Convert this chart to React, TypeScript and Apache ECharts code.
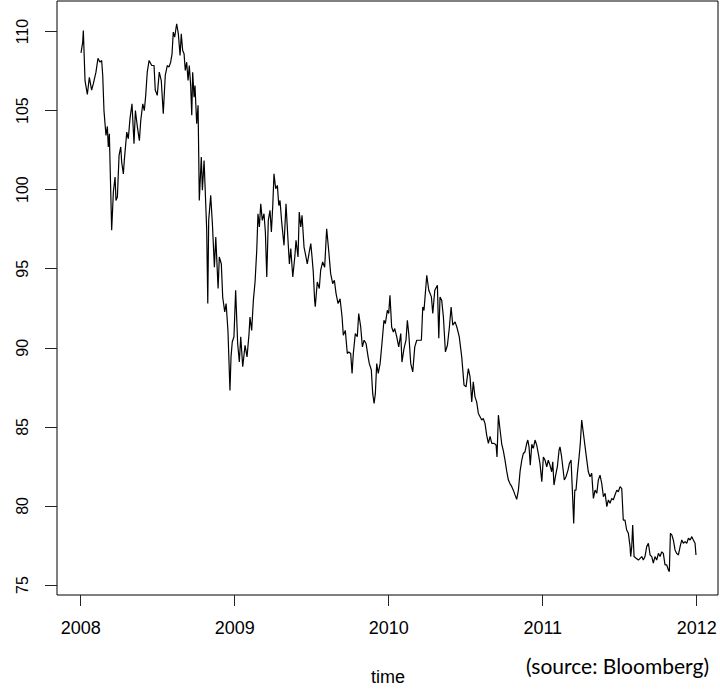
import React, { useEffect, useRef } from "react";
import * as echarts from "echarts";

// time in decimal years (as R's time() of the series)
const time = [
  2008.002, 2008.013, 2008.017, 2008.028, 2008.043, 2008.056, 2008.071, 2008.082, 2008.099, 2008.112,
  2008.125, 2008.136, 2008.143, 2008.151, 2008.164, 2008.173, 2008.179, 2008.186, 2008.190, 2008.201,
  2008.212, 2008.223, 2008.229, 2008.238, 2008.249, 2008.260, 2008.266, 2008.277, 2008.283, 2008.299,
  2008.309, 2008.320, 2008.333, 2008.346, 2008.355, 2008.368, 2008.381, 2008.390, 2008.403, 2008.413,
  2008.422, 2008.432, 2008.444, 2008.461, 2008.476, 2008.484, 2008.497, 2008.510, 2008.523, 2008.536,
  2008.549, 2008.562, 2008.573, 2008.584, 2008.593, 2008.601, 2008.610, 2008.623, 2008.634, 2008.645,
  2008.653, 2008.662, 2008.671, 2008.679, 2008.688, 2008.697, 2008.705, 2008.714, 2008.721, 2008.727,
  2008.736, 2008.742, 2008.753, 2008.762, 2008.770, 2008.783, 2008.790, 2008.801, 2008.818, 2008.825,
  2008.831, 2008.844, 2008.855, 2008.868, 2008.877, 2008.892, 2008.900, 2008.913, 2008.922, 2008.935,
  2008.944, 2008.956, 2008.969, 2008.976, 2008.984, 2008.995, 2009.006, 2009.019, 2009.030, 2009.039,
  2009.052, 2009.067, 2009.080, 2009.093, 2009.099, 2009.110, 2009.121, 2009.132, 2009.143, 2009.151,
  2009.160, 2009.169, 2009.179, 2009.190, 2009.199, 2009.208, 2009.218, 2009.229, 2009.238, 2009.247,
  2009.255, 2009.266, 2009.277, 2009.286, 2009.294, 2009.305, 2009.320, 2009.333, 2009.346, 2009.355,
  2009.364, 2009.377, 2009.390, 2009.398, 2009.411, 2009.419, 2009.429, 2009.437, 2009.450, 2009.463,
  2009.471, 2009.484, 2009.494, 2009.502, 2009.510, 2009.519, 2009.523, 2009.536, 2009.549, 2009.558,
  2009.571, 2009.584, 2009.597, 2009.610, 2009.623, 2009.636, 2009.647, 2009.658, 2009.671, 2009.684,
  2009.697, 2009.705, 2009.718, 2009.731, 2009.740, 2009.753, 2009.762, 2009.770, 2009.783, 2009.796,
  2009.805, 2009.818, 2009.829, 2009.840, 2009.853, 2009.866, 2009.874, 2009.887, 2009.896, 2009.905,
  2009.913, 2009.922, 2009.932, 2009.944, 2009.956, 2009.969, 2009.978, 2009.991, 2010.000, 2010.008,
  2010.019, 2010.030, 2010.039, 2010.052, 2010.065, 2010.078, 2010.086, 2010.099, 2010.112, 2010.121,
  2010.130, 2010.143, 2010.156, 2010.169, 2010.182, 2010.195, 2010.212, 2010.221, 2010.229, 2010.247,
  2010.260, 2010.277, 2010.286, 2010.299, 2010.316, 2010.325, 2010.333, 2010.344, 2010.355, 2010.368,
  2010.381, 2010.394, 2010.405, 2010.416, 2010.431, 2010.445, 2010.458, 2010.474, 2010.489, 2010.502,
  2010.517, 2010.528, 2010.539, 2010.549, 2010.560, 2010.571, 2010.582, 2010.593, 2010.604, 2010.614,
  2010.625, 2010.636, 2010.647, 2010.658, 2010.669, 2010.684, 2010.697, 2010.703, 2010.712, 2010.723,
  2010.734, 2010.744, 2010.755, 2010.766, 2010.777, 2010.788, 2010.799, 2010.809, 2010.820, 2010.831,
  2010.842, 2010.853, 2010.864, 2010.874, 2010.885, 2010.896, 2010.903, 2010.911, 2010.919, 2010.929,
  2010.939, 2010.950, 2010.961, 2010.971, 2010.982, 2010.994, 2011.004, 2011.015, 2011.026, 2011.036,
  2011.047, 2011.058, 2011.065, 2011.073, 2011.084, 2011.095, 2011.106, 2011.112, 2011.121, 2011.130,
  2011.140, 2011.151, 2011.164, 2011.173, 2011.184, 2011.195, 2011.201, 2011.208, 2011.216, 2011.225,
  2011.236, 2011.244, 2011.253, 2011.264, 2011.275, 2011.286, 2011.296, 2011.307, 2011.318, 2011.329,
  2011.340, 2011.351, 2011.361, 2011.372, 2011.383, 2011.394, 2011.405, 2011.416, 2011.426, 2011.437,
  2011.448, 2011.458, 2011.469, 2011.481, 2011.491, 2011.502, 2011.513, 2011.523, 2011.534, 2011.545,
  2011.556, 2011.567, 2011.571, 2011.578, 2011.584, 2011.593, 2011.606, 2011.621, 2011.632, 2011.643,
  2011.653, 2011.664, 2011.675, 2011.686, 2011.697, 2011.708, 2011.718, 2011.729, 2011.740, 2011.751,
  2011.762, 2011.773, 2011.783, 2011.794, 2011.805, 2011.816, 2011.822, 2011.829, 2011.838, 2011.848,
  2011.859, 2011.870, 2011.881, 2011.892, 2011.903, 2011.913, 2011.924, 2011.935, 2011.946, 2011.957,
  2011.968, 2011.978, 2011.989, 2011.995,
];

const price = [
  108.65, 109.33, 110.06, 106.9, 106.02, 107.1, 106.3, 106.7, 107.43, 108.31,
  108.06, 108.17, 107.2, 105.0, 103.43, 104.0, 102.7, 103.54, 101.85, 97.43,
  99.85, 100.8, 99.32, 99.53, 102.17, 102.7, 101.74, 101.0, 101.85, 103.64,
  103.22, 104.49, 105.43, 102.9, 105.0, 103.96, 103.1, 104.4, 105.43, 105.0,
  105.96, 107.43, 108.17, 107.85, 107.85, 106.3, 105.96, 107.43, 106.9, 104.8,
  107.22, 107.85, 107.75, 108.06, 108.59, 109.96, 109.64, 110.49, 109.85, 108.48,
  109.85, 108.8, 108.59, 107.54, 108.06, 106.9, 107.85, 106.59, 104.7, 107.43,
  105.85, 106.59, 104.17, 105.33, 99.32, 102.06, 99.96, 101.85, 97.5, 92.8,
  98.06, 99.64, 97.85, 95.1, 97.0, 93.75, 95.74, 95.3, 93.2, 92.27,
  92.8, 91.1, 87.3, 89.43, 90.37, 90.7, 93.64, 90.27, 89.1, 90.7,
  88.8, 90.16, 89.43, 90.9, 91.95, 91.1, 93.0, 94.16, 96.17, 98.48,
  97.64, 99.1, 98.06, 98.48, 97.32, 94.48, 98.06, 98.7, 97.32, 99.0,
  101.0, 100.06, 100.27, 99.0, 99.32, 97.95, 96.48, 99.1, 96.8, 95.3,
  96.27, 94.48, 95.74, 96.8, 95.74, 98.58, 97.64, 98.38, 96.37, 95.74,
  95.3, 96.06, 96.59, 95.74, 94.8, 93.0, 92.6, 94.16, 93.75, 94.9,
  95.43, 95.1, 97.53, 96.17, 94.69, 94.06, 94.27, 93.43, 92.8, 93.1,
  91.95, 90.8, 91.1, 89.64, 89.74, 89.64, 88.38, 89.64, 90.9, 90.7,
  92.17, 91.32, 90.06, 90.48, 90.27, 89.43, 89.0, 88.6, 87.1, 86.48,
  87.1, 89.0, 88.38, 89.0, 90.27, 91.74, 91.53, 92.37, 92.17, 93.32,
  91.32, 91.0, 91.22, 90.69, 90.06, 90.9, 89.1, 89.95, 90.48, 91.74,
  90.9, 89.0, 88.48, 90.06, 90.48, 90.48, 90.48, 92.58, 92.37, 94.59,
  93.64, 93.22, 92.17, 93.64, 93.96, 90.6, 93.22, 93.0, 91.95, 89.74,
  90.16, 91.32, 92.58, 91.43, 91.64, 91.22, 90.69, 89.43, 87.64, 87.53,
  88.69, 88.16, 86.58, 87.85, 86.9, 86.58, 85.85, 85.64, 85.43, 85.53,
  85.22, 84.48, 83.96, 84.4, 83.96, 83.96, 83.85, 83.1, 85.74, 84.8,
  83.9, 83.5, 82.9, 82.2, 81.64, 81.4, 81.22, 81.0, 80.7, 80.42,
  81.0, 82.2, 82.9, 83.32, 83.43, 83.96, 84.17, 83.74, 82.58, 83.9,
  83.64, 84.17, 83.85, 83.32, 82.69, 81.53, 83.1, 82.9, 82.48, 82.9,
  82.58, 82.16, 82.79, 81.32, 81.95, 82.48, 83.53, 83.74, 83.22, 82.48,
  81.64, 81.85, 82.27, 82.69, 82.9, 80.37, 78.9, 81.0, 81.0, 82.06,
  83.1, 83.96, 85.43, 84.6, 83.74, 82.9, 82.16, 81.85, 82.06, 80.48,
  81.0, 80.8, 81.64, 81.95, 81.43, 80.58, 80.8, 79.96, 80.38, 80.17,
  80.48, 80.38, 80.69, 81.0, 80.9, 81.22, 81.1, 79.11, 79.11, 78.48,
  78.27, 77.43, 76.8, 77.43, 78.8, 76.8, 76.69, 76.58, 76.69, 76.8,
  76.58, 76.8, 77.43, 77.64, 76.9, 76.8, 76.38, 76.8, 76.58, 77.0,
  76.8, 77.1, 77.0, 76.27, 76.27, 75.95, 75.85, 78.27, 78.17, 77.85,
  77.22, 77.0, 76.9, 77.43, 77.85, 77.64, 77.75, 77.64, 77.96, 77.85,
  78.06, 77.85, 77.64, 76.9,
];

const xTicks = [2008, 2009, 2010, 2011, 2012];
const yTicks = [75, 80, 85, 90, 95, 100, 105, 110];
const xLabel = "time";
const sourceNote = "(source: Bloomberg)";

export default function App() {
  const ref = useRef<HTMLDivElement>(null);

  useEffect(() => {
    if (!ref.current) return;
    const chart = echarts.init(ref.current, undefined, { renderer: "svg" });
    const data = time.map((t, i) => [t, price[i]]);
    const font = "'Liberation Sans', Arial, Helvetica, sans-serif";
    chart.setOption({
      animation: false,
      backgroundColor: "#ffffff",
      grid: {
        left: 57,
        right: 2,
        top: 1,
        bottom: 96,
        show: true,
        borderColor: "#000",
        borderWidth: 1,
        backgroundColor: "transparent",
      },
      xAxis: {
        type: "value",
        min: 2007.846,
        max: 2012.138,
        axisLine: { show: false },
        splitLine: { show: false },
        axisTick: {
          show: true,
          length: 11,
          customValues: xTicks,
          lineStyle: { color: "#222", width: 1 },
        },
        axisLabel: {
          customValues: xTicks,
          fontSize: 18,
          fontFamily: font,
          color: "#000",
          margin: 24,
          formatter: (v: number) => String(Math.round(v)),
        },
      },
      yAxis: {
        type: "value",
        min: 74.37,
        max: 111.93,
        axisLine: { show: false },
        splitLine: { show: false },
        axisTick: {
          show: true,
          length: 12,
          customValues: yTicks,
          lineStyle: { color: "#222", width: 1 },
        },
        axisLabel: {
          customValues: yTicks,
          rotate: 90,
          fontSize: 16,
          fontFamily: font,
          color: "#000",
          margin: 27,
          formatter: (v: number) => String(Math.round(v)),
        },
      },
      series: [
        {
          type: "line",
          data,
          showSymbol: false,
          symbol: "none",
          lineStyle: { color: "#000", width: 1.2 },
          silent: true,
        },
      ],
      graphic: [
        {
          type: "text",
          x: 388,
          y: 677,
          style: {
            text: xLabel,
            fontSize: 18,
            fontFamily: font,
            fill: "#000",
            textAlign: "center",
            textVerticalAlign: "middle",
          },
        },
        {
          type: "text",
          x: 709,
          y: 665,
          style: {
            text: sourceNote,
            fontSize: 21,
            fontFamily: "Lato, 'Open Sans', sans-serif",
            fill: "#000",
            textAlign: "right",
            textVerticalAlign: "middle",
          },
        },
      ],
    });
    return () => chart.dispose();
  }, []);

  return (
    <div
      ref={ref}
      style={{ position: "fixed", left: 0, top: 0, width: 720, height: 691, background: "#fff" }}
    />
  );
}
